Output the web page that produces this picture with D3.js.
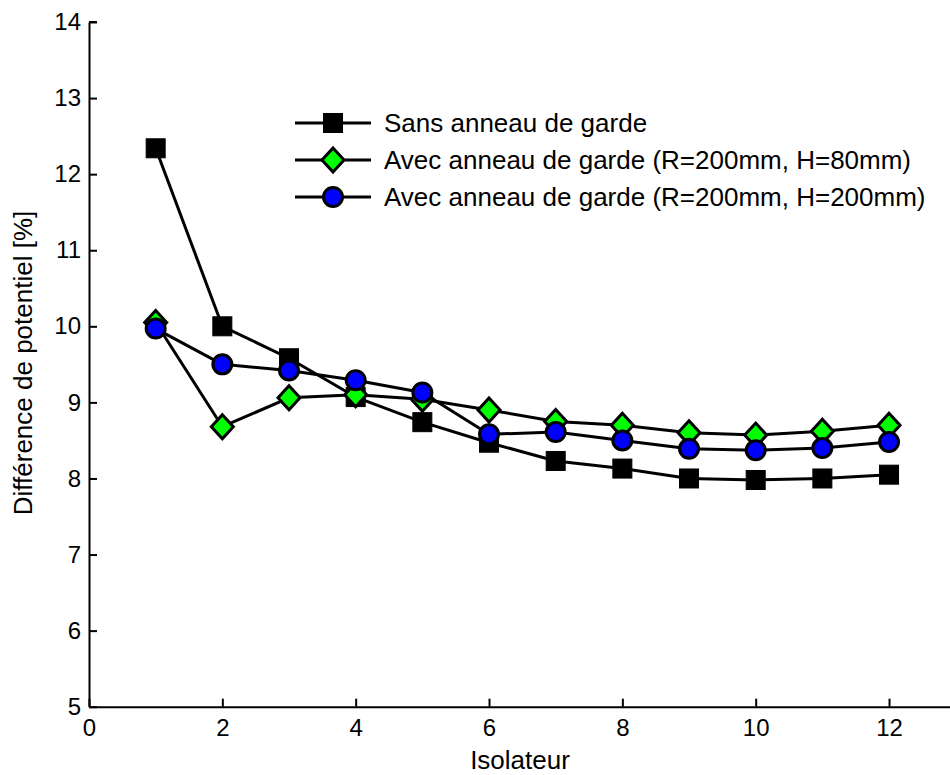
<!DOCTYPE html>
<html>
<head>
<meta charset="utf-8">
<script src="https://cdn.jsdelivr.net/npm/d3@7"></script>
<style>
  body { margin: 0; background: #fff; }
  svg text { font-family: "Liberation Sans", Arial, sans-serif; fill: #000; }
</style>
</head>
<body>
<svg id="chart" width="950" height="775"></svg>
<script>
// data
var isolateurs = [1, 2, 3, 4, 5, 6, 7, 8, 9, 10, 11, 12];
var sansAnneau = [12.34, 10.0, 9.58, 9.07, 8.74, 8.47, 8.23, 8.13, 8.0, 7.98, 8.0, 8.05];
var avecH80 = [10.05, 8.68, 9.06, 9.1, 9.04, 8.9, 8.75, 8.7, 8.6, 8.57, 8.62, 8.7];
var avecH200 = [9.97, 9.5, 9.42, 9.29, 9.13, 8.58, 8.61, 8.5, 8.39, 8.37, 8.4, 8.48];
var xTicks = [0, 2, 4, 6, 8, 10, 12];
var yTicks = [5, 6, 7, 8, 9, 10, 11, 12, 13, 14];
var seriesNames = [
  'Sans anneau de garde',
  'Avec anneau de garde (R=200mm, H=80mm)',
  'Avec anneau de garde (R=200mm, H=200mm)'
];

var tickFont = '24px';
var labelFont = '26px';
var svg = d3.select('#chart');

var x = d3.scaleLinear().domain([0, 13]).range([89, 955.7]);
var y = d3.scaleLinear().domain([5, 14]).range([706.7, 22]);

//axes, ticks drawn inward like the matlab style
var xAxis = d3.axisBottom(x).tickValues(xTicks).tickSizeInner(-8).tickSizeOuter(0).tickPadding(12);
var yAxis = d3.axisLeft(y).tickValues(yTicks).tickSizeInner(-8).tickSizeOuter(0).tickPadding(8);

var gx = svg.append('g').attr('transform', 'translate(0,' + y(5) + ')').call(xAxis);
var gy = svg.append('g').attr('transform', 'translate(' + x(0) + ',0)').call(yAxis);

[gx, gy].forEach(function(g) {
  g.attr('font-size', null).attr('font-family', null);
  g.select('.domain').attr('stroke', '#000').attr('stroke-width', 2);
  g.selectAll('.tick line').attr('stroke', '#000').attr('stroke-width', 2);
  g.selectAll('.tick text').style('font-size', tickFont).attr('fill', '#000');
});
gx.selectAll('.tick text').attr('dy', '0.71em');
// short cap at the top of the y axis
svg.append('line')
  .attr('x1', x(0)).attr('x2', x(0) + 8)
  .attr('y1', y(14)).attr('y2', y(14))
  .attr('stroke', '#000').attr('stroke-width', 2);

svg.append('text')
  .attr('x', 520).attr('y', 769)
  .attr('text-anchor', 'middle')
  .style('font-size', labelFont)
  .text('Isolateur');

svg.append('text')
  .attr('transform', 'translate(32,363) rotate(-90)')
  .attr('text-anchor', 'middle')
  .style('font-size', labelFont)
  .text('Différence de potentiel [%]');

var line = d3.line()
  .x(function(d) { return x(d[0]); })
  .y(function(d) { return y(d[1]); });

function drawMarker(g, kind, cx, cy) {
  if (kind === 'square') {
    g.append('rect')
      .attr('x', cx - 9.5).attr('y', cy - 9.5)
      .attr('width', 19).attr('height', 19)
      .attr('fill', '#000').attr('stroke', '#000').attr('stroke-width', 1);
  } else if (kind === 'diamond') {
    g.append('path')
      .attr('d', 'M' + cx + ',' + (cy - 12) + 'L' + (cx + 11) + ',' + cy + 'L' + cx + ',' + (cy + 12) + 'L' + (cx - 11) + ',' + cy + 'Z')
      .attr('fill', '#00ff00').attr('stroke', '#000').attr('stroke-width', 3).attr('stroke-linejoin', 'miter');
  } else {
    g.append('circle')
      .attr('cx', cx).attr('cy', cy).attr('r', 9.5)
      .attr('fill', '#0000ff').attr('stroke', '#000').attr('stroke-width', 3);
  }
}

var allSeries = [
  { values: sansAnneau, marker: 'square' },
  { values: avecH80, marker: 'diamond' },
  { values: avecH200, marker: 'circle' }
];

allSeries.forEach(function(s) {
  var pts = isolateurs.map(function(xi, i) { return [xi, s.values[i]]; });
  var g = svg.append('g');
  g.append('path')
    .attr('d', line(pts))
    .attr('fill', 'none')
    .attr('stroke', '#000')
    .attr('stroke-width', 3)
    .attr('stroke-linejoin', 'round');
  pts.forEach(function(p) {
    drawMarker(g, s.marker, x(p[0]), y(p[1]));
  });
});

//legend
var legendY = [123, 160, 197];
allSeries.forEach(function(s, i) {
  var g = svg.append('g');
  g.append('line')
    .attr('x1', 295).attr('x2', 371)
    .attr('y1', legendY[i]).attr('y2', legendY[i])
    .attr('stroke', '#000').attr('stroke-width', 3);
  drawMarker(g, s.marker, 333, legendY[i]);
  g.append('text')
    .attr('x', 384).attr('y', legendY[i])
    .attr('dy', '0.36em')
    .style('font-size', labelFont)
    .text(seriesNames[i]);
});
</script>
</body>
</html>
